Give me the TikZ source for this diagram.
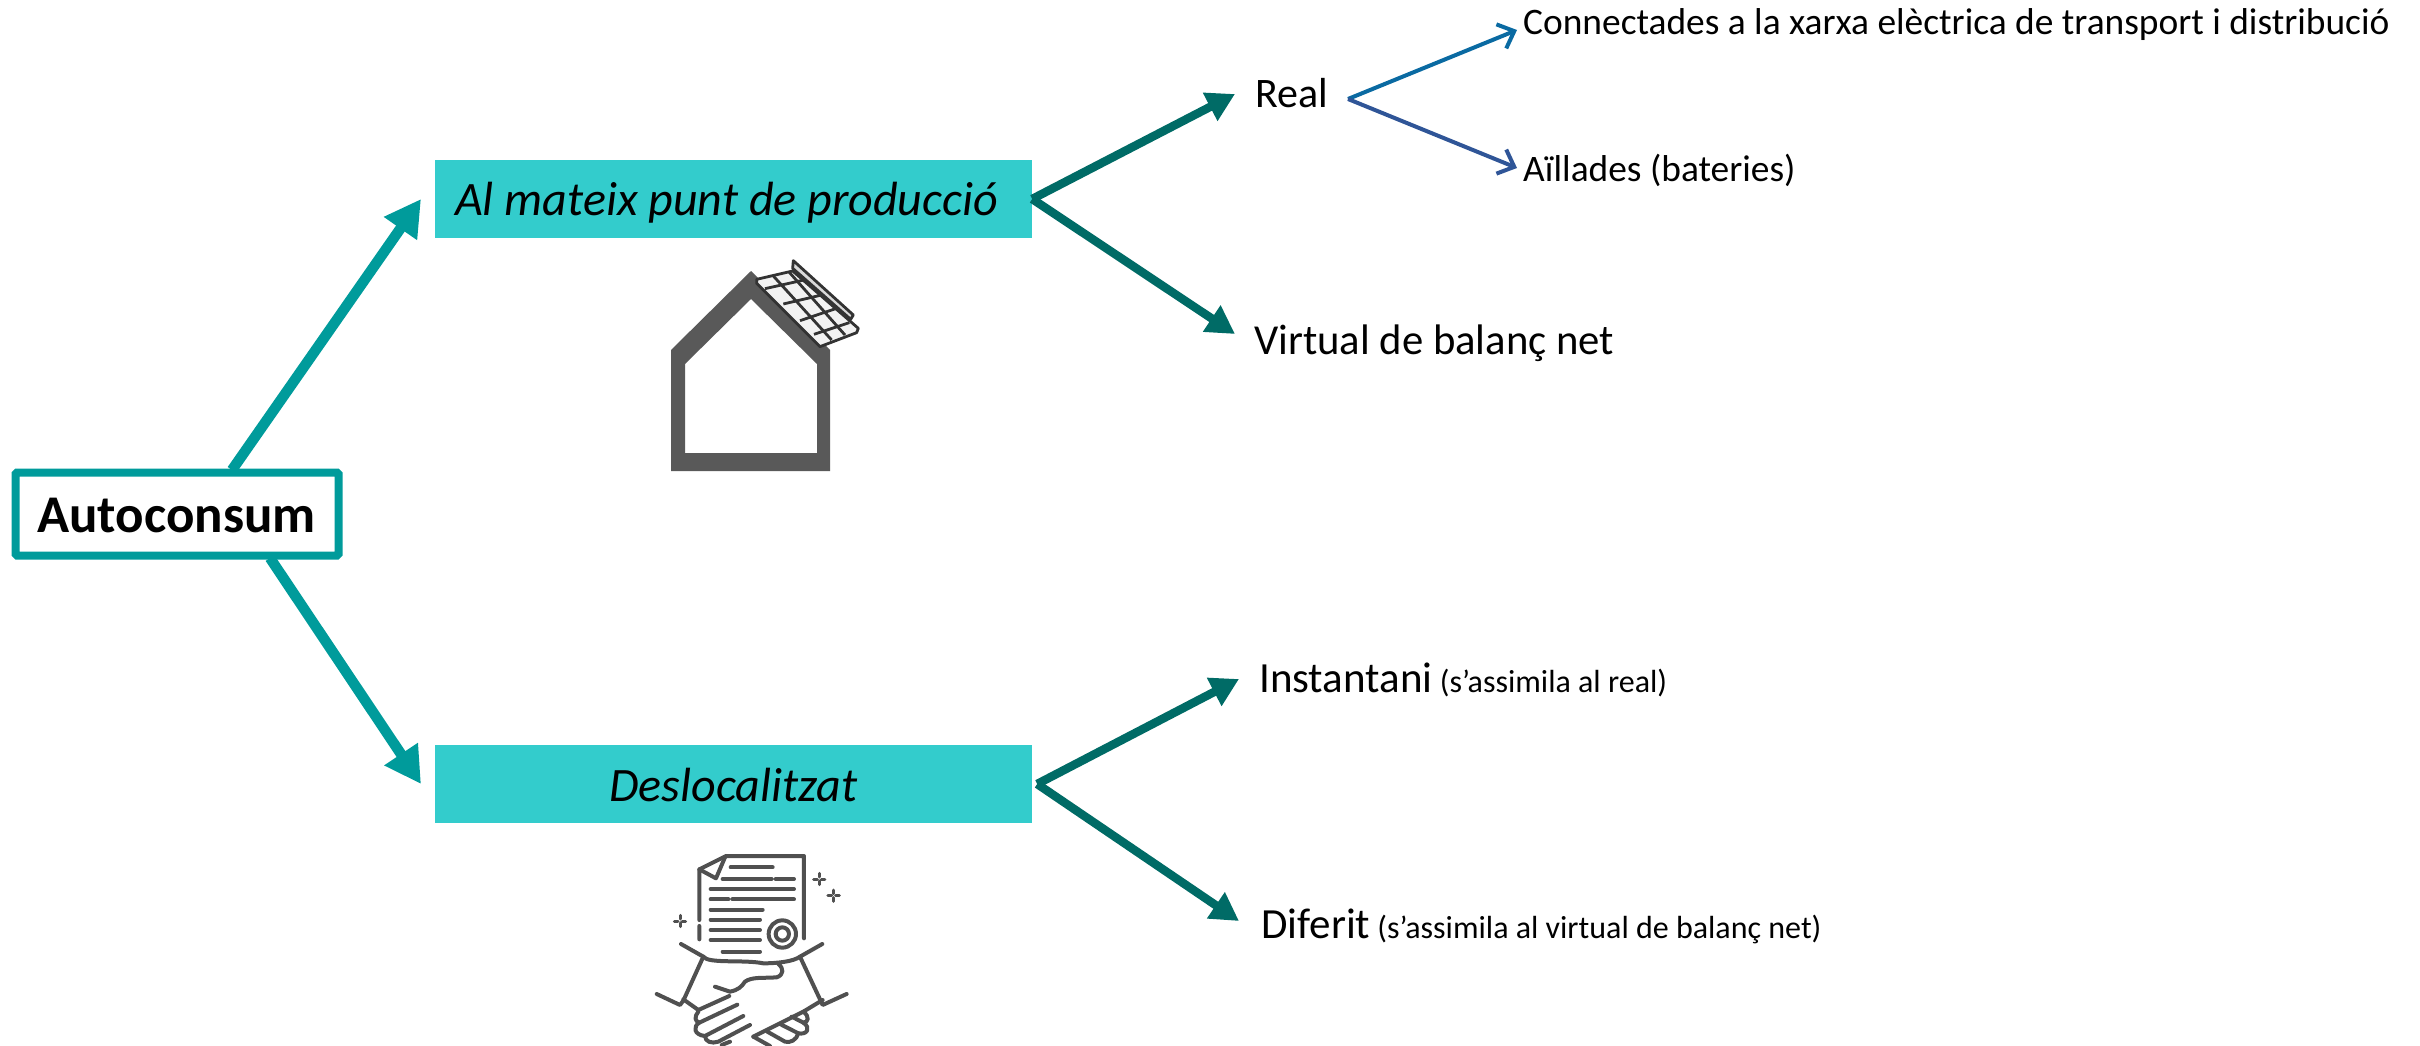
\documentclass[tikz,border=0pt]{standalone}
\usepackage{fontspec}
\setmainfont{Carlito}
\usetikzlibrary{arrows.meta}
\definecolor{tealA}{HTML}{009B9B}
\definecolor{tealB}{HTML}{006B66}
\definecolor{boxfill}{HTML}{33CCCC}
\definecolor{blueA}{HTML}{0A6AA2}
\definecolor{blueB}{HTML}{2F5597}
\definecolor{house}{HTML}{595959}
\definecolor{icon}{HTML}{505050}
\newcommand{\fs}[1]{\fontsize{#1}{#1}\selectfont}
\tikzset{
 x=1pt,y=-1pt,
 thick arrow/.style={line width=10.5,tealA,-{Triangle[length=36,width=38]}},
 mid arrow/.style={line width=8.5,tealB,-{Triangle[length=28,width=30]}},
 thin arrow/.style={line width=4,-{Straight Barb[length=14,width=26,line width=4]}},
 lab/.style={anchor=base west,inner sep=0,text=black},
 bar/.style={fill=boxfill,draw=none,minimum width=597,minimum height=78,inner sep=0,text=black},
 ic/.style={draw=icon,line width=4,line cap=round,line join=round,fill=none},
 pn/.style={draw=black!80,line width=2.8,line join=round},
}
\begin{document}
\begin{tikzpicture}
\useasboundingbox (0,0) rectangle (2420,1046);
\clip (0,0) rectangle (2420,1046);
% named free ends
\coordinate (tipA) at (421,199);
\coordinate (tipB) at (421,784);
\coordinate (tipReal) at (1235,94);
\coordinate (tipVirt) at (1235,334);
\coordinate (tipInst) at (1239,679);
\coordinate (tipDif) at (1239,921);
\coordinate (tipCon) at (1517,30);
\coordinate (tipAil) at (1517,168);
\coordinate (forkR) at (1348,99);
\coordinate (startA) at (232,470);
\coordinate (startB) at (270,558);
% connectors under the boxes
\draw[thick arrow] (startA) -- (tipA);
\draw[thick arrow] (startB) -- (tipB);
% boxes
\node[draw=tealA,line width=8,fill=white,rounded corners=1.5,minimum width=323,minimum height=83,inner sep=0] (auto) at (177,514) {};
\node[lab,font=\fs{53}\bfseries] (autoT) at (37,532) {Autoconsum};
\node[bar] (prodA) at (733.5,199) {};
\node[bar] (prodB) at (733.5,784) {};
\node[lab,font=\fs{48}\itshape] (prodAT) at (455,215) {Al mateix punt de producció};
\node[anchor=base,inner sep=0,font=\fs{48}\itshape] (prodBT) at (733.5,801) {Deslocalitzat};
% labels
\node[lab,font=\fs{42}] (real) at (1255,108) {Real};
\node[lab,font=\fs{42.7}] (virt) at (1254,354) {Virtual de balanç net};
\node[lab,font=\fs{43}] (inst) at (1259,692) {Instantani{\fs{32} (s’assimila al real)}};
\node[lab,font=\fs{43}] (dif) at (1261,938) {Diferit{\fs{32} (s’assimila al virtual de balanç net)}};
\node[lab,font=\fs{37.4}] (con) at (1523,35) {Connectades a la xarxa elèctrica de transport i distribució};
\node[lab,font=\fs{37.4}] (ail) at (1523,181) {Aïllades (bateries)};
% branches
\draw[mid arrow] (prodA.east) -- (tipReal);
\draw[mid arrow] (prodA.east) -- (tipVirt);
\draw[mid arrow] ([xshift=5]prodB.east) -- (tipInst);
\draw[mid arrow] ([xshift=5]prodB.east) -- (tipDif);
\draw[thin arrow,blueA] (forkR) -- (tipCon);
\draw[thin arrow,blueB] (forkR) -- (tipAil);
% house icon
\fill[house,even odd rule] (671,350) -- (751,271) -- (830,350) -- (830,471) -- (671,471) -- cycle
 (685,364) -- (751,299) -- (817,364) -- (817,453) -- (685,453) -- cycle;
% solar panel
\begin{scope}[shift={(640,240)},x=0.3333pt,y=-0.3333pt]
 \draw[pn,fill=white!85!black] (460,62) -- (640,225) -- (632,238) -- (458,85) -- cycle;
 \draw[pn,fill=white!95!black] (350,118) -- (458,93) -- (655,265) -- (650,278) -- (540,320) -- (350,130) -- cycle;
 \draw[pn] (400,108) -- (575,300);
 \draw[pn] (448,97) -- (615,285);
 \draw[pn] (375,146) -- (492,120);
 \draw[pn] (430,192) -- (545,165);
 \draw[pn] (480,242) -- (590,205);
 \draw[pn] (522,283) -- (628,248);
\end{scope}
% contract and handshake icon
\begin{scope}[shift={(630,840)},x=0.3333pt,y=-0.3333pt]
 \draw[ic] (208,298) -- (208,258) (208,240) -- (208,88) -- (288,48) -- (522,48) -- (522,295);
 \draw[ic] (208,88) -- (258,115) -- (285,52);
 \draw[ic] (302,82) -- (428,82) (278,117) -- (425,117) (437,117) -- (492,117)
  (242,147) -- (492,147) (242,178) -- (295,178) (307,178) -- (492,178)
  (242,209) -- (398,209) (242,239) -- (390,239) (242,270) -- (390,270)
  (242,300) -- (390,300) (278,335) -- (390,335);
 \draw[ic] (457,282) circle[radius=41] (457,282) circle[radius=20];
 \foreach \sx/\sy in {568/117,611/167,150/243}{
  \draw[ic,line width=3] (\sx-17,\sy) -- (\sx-6,\sy) (\sx+6,\sy) -- (\sx+17,\sy)
   (\sx,\sy-17) -- (\sx,\sy-6) (\sx,\sy+6) -- (\sx,\sy+17);}
 \draw[ic] (153,312) -- (220,350) -- (160,482) -- (150,495) -- (80,462);
 \draw[ic] (577,312) -- (510,350) -- (578,495) -- (650,462);
 \draw[ic] (220,350) .. controls (235,372) and (340,358) .. (400,370) .. controls (440,370) and (490,365) .. (510,350);
 \draw[ic] (445,372) .. controls (462,385) and (462,405) .. (440,412) .. controls (400,415) and (365,410) .. (345,425) .. controls (335,440) and (325,450) .. (300,455) -- (255,440);
 \draw[ic] (160,478) -- (205,510);
 \draw[ic] (205,510) -- (298,468);
 \draw[ic] (205,515) .. controls (192,530) and (195,545) .. (208,548) -- (322,494);
 \draw[ic] (208,548) .. controls (188,560) and (192,585) .. (225,588) -- (340,528);
 \draw[ic] (225,588) .. controls (225,605) and (245,612) .. (265,605) -- (360,555);
 \draw[ic] (275,615) -- (300,605);
 \draw[ic] (578,480) -- (520,515) -- (370,590);
 \draw[ic] (520,515) .. controls (540,530) and (535,548) .. (520,548) -- (485,530);
 \draw[ic] (520,548) .. controls (545,565) and (530,585) .. (505,580) -- (450,552);
 \draw[ic] (505,580) .. controls (500,600) and (480,610) .. (465,605) -- (412,575);
 \draw[ic] (370,590) -- (420,618);
\end{scope}
\end{tikzpicture}
\end{document}
